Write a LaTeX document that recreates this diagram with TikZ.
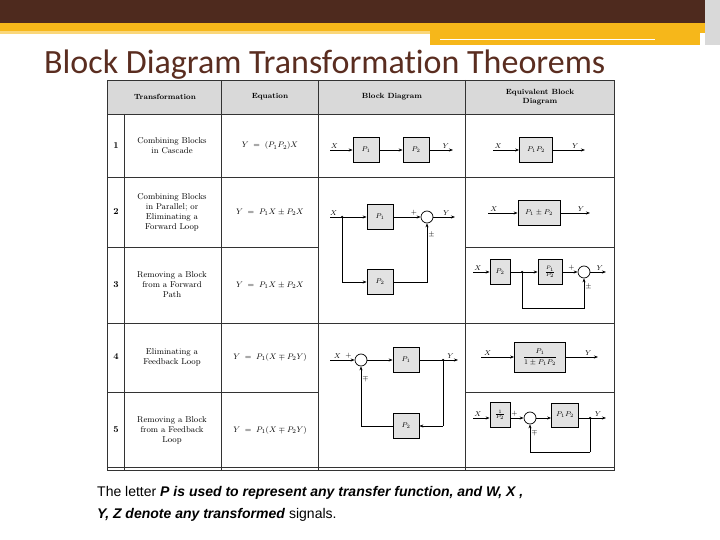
\documentclass[tikz,border=0pt]{standalone}
\usepackage{fontspec}
\newfontfamily\titlefont[Ligatures=NoCommon]{Carlito}
\newfontfamily\arialfont{Liberation Sans}
\usetikzlibrary{arrows.meta}
\definecolor{brownbar}{HTML}{4E2A1E}
\definecolor{gold}{HTML}{F6B71A}
\definecolor{lgold}{HTML}{FAD77A}
\definecolor{titlec}{HTML}{5A2D20}
\definecolor{boxg}{HTML}{E2E2E2}
\definecolor{headg}{HTML}{D9D9D9}
\tikzset{
 blk/.style={draw, fill=boxg, line width=0.7pt, minimum width=26pt, minimum height=25pt, inner sep=0pt, font=\fontsize{7}{8}\selectfont},
 sumc/.style={draw, circle, fill=white, line width=0.7pt, minimum size=12pt, inner sep=0pt},
 ar/.style={-{Stealth[length=4pt,width=3pt]}, line width=0.7pt},
 ln/.style={line width=0.7pt},
 lbl/.style={font=\fontsize{7.5}{8}\selectfont, inner sep=1pt},
 cell/.style={font=\fontsize{8.5}{10}\selectfont, align=center, inner sep=0pt},
 hcell/.style={font=\bfseries\fontsize{7.5}{9}\selectfont, align=center, inner sep=0pt},
 dot/.style={circle, fill, inner sep=0pt, minimum size=2.5pt},
 tline/.style={line width=0.9pt, draw=black!80}
}
\begin{document}
\begin{tikzpicture}[x=1pt,y=-1pt]
\useasboundingbox (0,0) rectangle (720,540);
% header bars
\fill[brownbar] (0,0) rectangle (720,23);
\fill[gold] (0,23) rectangle (720,33);
\fill[gold] (430,33) rectangle (700,45);
\fill[lgold] (0,31) rectangle (430,34);
\draw[white, line width=1pt] (440,40) -- (655,40);
\fill[black!15] (705,0) rectangle (720,45);
\node[font=\titlefont\fontsize{34}{38}\selectfont, text=titlec, anchor=base west, inner sep=0pt] (title) at (44,74) {Block Diagram Transformation Theorems};
% table
\fill[headg] (107,80) rectangle (614,114);
\draw[tline] (107,80) rectangle (614,470);
\draw[tline] (107,114) -- (614,114);
\draw[tline] (107,177) -- (614,177);
\draw[tline] (107,247) -- (318,247) (465,247) -- (614,247);
\draw[tline] (107,323) -- (614,323);
\draw[tline] (107,392) -- (318,392) (465,392) -- (614,392);
\draw[tline] (107,467) -- (614,467);
\draw[tline] (124,114) -- (124,470);
\draw[tline] (221,80) -- (221,470);
\draw[tline] (318,80) -- (318,470);
\draw[tline] (465,80) -- (465,470);
% header text
\node[hcell] (h1) at (165,97) {Transformation};
\node[hcell] (h2) at (270,97) {Equation};
\node[hcell] (h3) at (392,97) {Block Diagram};
\node[hcell] (h4) at (540,97) {Equivalent Block\\Diagram};
% numbers
\node[hcell, font=\bfseries\fontsize{9}{9}\selectfont] (n1) at (116,146) {1};
\node[hcell, font=\bfseries\fontsize{9}{9}\selectfont] (n2) at (116,212) {2};
\node[hcell, font=\bfseries\fontsize{9}{9}\selectfont] (n3) at (116,285) {3};
\node[hcell, font=\bfseries\fontsize{9}{9}\selectfont] (n4) at (116,357) {4};
\node[hcell, font=\bfseries\fontsize{9}{9}\selectfont] (n5) at (116,430) {5};
% transformation names
\node[cell] (t1) at (172,146) {Combining Blocks\\in Cascade};
\node[cell] (t2) at (172,212) {Combining Blocks\\in Parallel; or\\Eliminating a\\Forward Loop};
\node[cell] (t3) at (172,285) {Removing a Block\\from a Forward\\Path};
\node[cell] (t4) at (172,357) {Eliminating a\\Feedback Loop};
\node[cell] (t5) at (172,430) {Removing a Block\\from a Feedback\\Loop};
% equations
\node[cell] (e1) at (270,146) {$Y\;=\;(P_1P_2)X$};
\node[cell] (e2) at (270,212) {$Y\;=\;P_1X\pm P_2X$};
\node[cell] (e3) at (270,285) {$Y\;=\;P_1X\pm P_2X$};
\node[cell] (e4) at (270,357) {$Y\;=\;P_1(X\mp P_2Y)$};
\node[cell] (e5) at (270,430) {$Y\;=\;P_1(X\mp P_2Y)$};
% ---- Row 1 block diagram
\coordinate (r1x) at (330,150);
\node[blk] (r1p1) at (366,150) {$P_1$};
\node[blk] (r1p2) at (416,150) {$P_2$};
\coordinate (r1y) at (453,150);
\draw[ar] (r1x) -- node[lbl, above, pos=0.2] {$X$} (r1p1);
\draw[ar] (r1p1) -- (r1p2);
\draw[ar] (r1p2) -- node[lbl, above, pos=0.7] {$Y$} (r1y);
% Row 1 equivalent
\coordinate (q1x) at (493,150);
\node[blk, minimum width=33pt] (q1p) at (536,150) {$P_1P_2$};
\coordinate (q1y) at (585,150);
\draw[ar] (q1x) -- node[lbl, above, pos=0.2] {$X$} (q1p);
\draw[ar] (q1p) -- node[lbl, above, pos=0.7] {$Y$} (q1y);
% ---- Row 2-3 block diagram
\coordinate (r2x) at (330,217);
\coordinate (r2b) at (342,217);
\node[dot] (r2d) at (r2b) {};
\node[blk] (r2p1) at (380,217) {$P_1$};
\node[sumc] (r2s) at (427,217) {};
\coordinate (r2y) at (455,217);
\node[blk] (r2p2) at (380,282) {$P_2$};
\draw[ln] (r2x) -- node[lbl, above, pos=0.3] {$X$} (r2b);
\draw[ar] (r2b) -- (r2p1);
\draw[ar] (r2p1) -- node[lbl, above, pos=0.75] {$+$} (r2s);
\draw[ar] (r2s) -- node[lbl, above, pos=0.6] {$Y$} (r2y);
\draw[ar] (r2b) |- (r2p2);
\draw[ar] (r2p2) -| node[lbl, right, pos=0.9] {$\pm$} (r2s);
% Row 2 equivalent
\coordinate (q2x) at (488,213);
\node[blk, minimum width=42pt] (q2p) at (539,213) {$P_1\pm P_2$};
\coordinate (q2y) at (590,213);
\draw[ar] (q2x) -- node[lbl, above, pos=0.2] {$X$} (q2p);
\draw[ar] (q2p) -- node[lbl, above, pos=0.7] {$Y$} (q2y);
% Row 3 equivalent
\coordinate (q3x) at (473,272);
\node[blk, minimum width=20pt] (q3p2) at (500,272) {$P_2$};
\coordinate (q3b) at (522,272);
\node[dot] (q3d) at (q3b) {};
\node[blk, minimum width=24pt] (q3f) at (550,272) {$\frac{P_1}{P_2}$};
\node[sumc] (q3s) at (584,272) {};
\coordinate (q3y) at (606,272);
\coordinate (q3c) at (522,308);
\draw[ar] (q3x) -- node[lbl, above, pos=0.3] {$X$} (q3p2);
\draw[ln] (q3p2) -- (q3b);
\draw[ar] (q3b) -- (q3f);
\draw[ar] (q3f) -- node[lbl, above, pos=0.6] {$+$} (q3s);
\draw[ar] (q3s) -- node[lbl, above, pos=0.6] {$Y$} (q3y);
\draw[ln] (q3b) -- (q3c);
\draw[ar] (q3c) -| node[lbl, right, pos=0.85] {$\pm$} (q3s);
% ---- Row 4-5 block diagram
\coordinate (r4x) at (330,360);
\node[sumc] (r4s) at (361,360) {};
\node[blk] (r4p1) at (406,360) {$P_1$};
\coordinate (r4b) at (443,360);
\node[dot] (r4d) at (r4b) {};
\coordinate (r4y) at (458,360);
\coordinate (r4c) at (443,426);
\node[blk] (r4p2) at (406,426) {$P_2$};
\draw[ar] (r4x) -- node[lbl, above, pos=0.3] {$X$} node[lbl, above, pos=0.75] {$+$} (r4s);
\draw[ar] (r4s) -- (r4p1);
\draw[ln] (r4p1) -- (r4b);
\draw[ar] (r4b) -- node[lbl, above, pos=0.5] {$Y$} (r4y);
\draw[ln] (r4b) -- (r4c);
\draw[ar] (r4c) -- (r4p2);
\draw[ar] (r4p2) -| node[lbl, right, pos=0.9] {$\mp$} (r4s);
% Row 4 equivalent
\coordinate (q4x) at (481,357);
\node[blk, minimum width=51pt, minimum height=30pt] (q4p) at (540,357) {$\displaystyle\frac{P_1}{1\pm P_1P_2}$};
\coordinate (q4y) at (598,357);
\draw[ar] (q4x) -- node[lbl, above, pos=0.2] {$X$} (q4p);
\draw[ar] (q4p) -- node[lbl, above, pos=0.7] {$Y$} (q4y);
% Row 5 equivalent
\coordinate (q5x) at (473,418);
\node[blk, minimum width=20pt] (q5a) at (500,415) {$\frac{1}{P_2}$};
\node[sumc] (q5s) at (530,418) {};
\node[blk, minimum width=27pt, minimum height=24pt] (q5p) at (565,415) {$P_1P_2$};
\coordinate (q5b) at (590,418);
\node[dot] (q5d) at (q5b) {};
\coordinate (q5y) at (606,418);
\coordinate (q5c) at (590,452);
\draw[ar] (q5x) -- node[lbl, above, pos=0.3] {$X$} (q5a.west |- q5x);
\draw[ar] (q5a.east |- q5x) -- node[lbl, above, pos=0.3] {$+$} (q5s);
\draw[ar] (q5s) -- (q5p.west |- q5s);
\draw[ln] (q5p.east |- q5b) -- (q5b);
\draw[ar] (q5b) -- node[lbl, above, pos=0.5] {$Y$} (q5y);
\draw[ln] (q5b) -- (q5c);
\draw[ar] (q5c) -| node[lbl, right, pos=0.85] {$\mp$} (q5s);
% caption
\node[font=\arialfont\fontsize{14}{22}\selectfont, anchor=north west, align=left, inner sep=0pt] (cap) at (97,486)
{The letter \textbf{\textit{P is used to represent any transfer function, and W, X ,}}\\\textbf{\textit{Y, Z denote any transformed}} signals.};
\end{tikzpicture}
\end{document}
